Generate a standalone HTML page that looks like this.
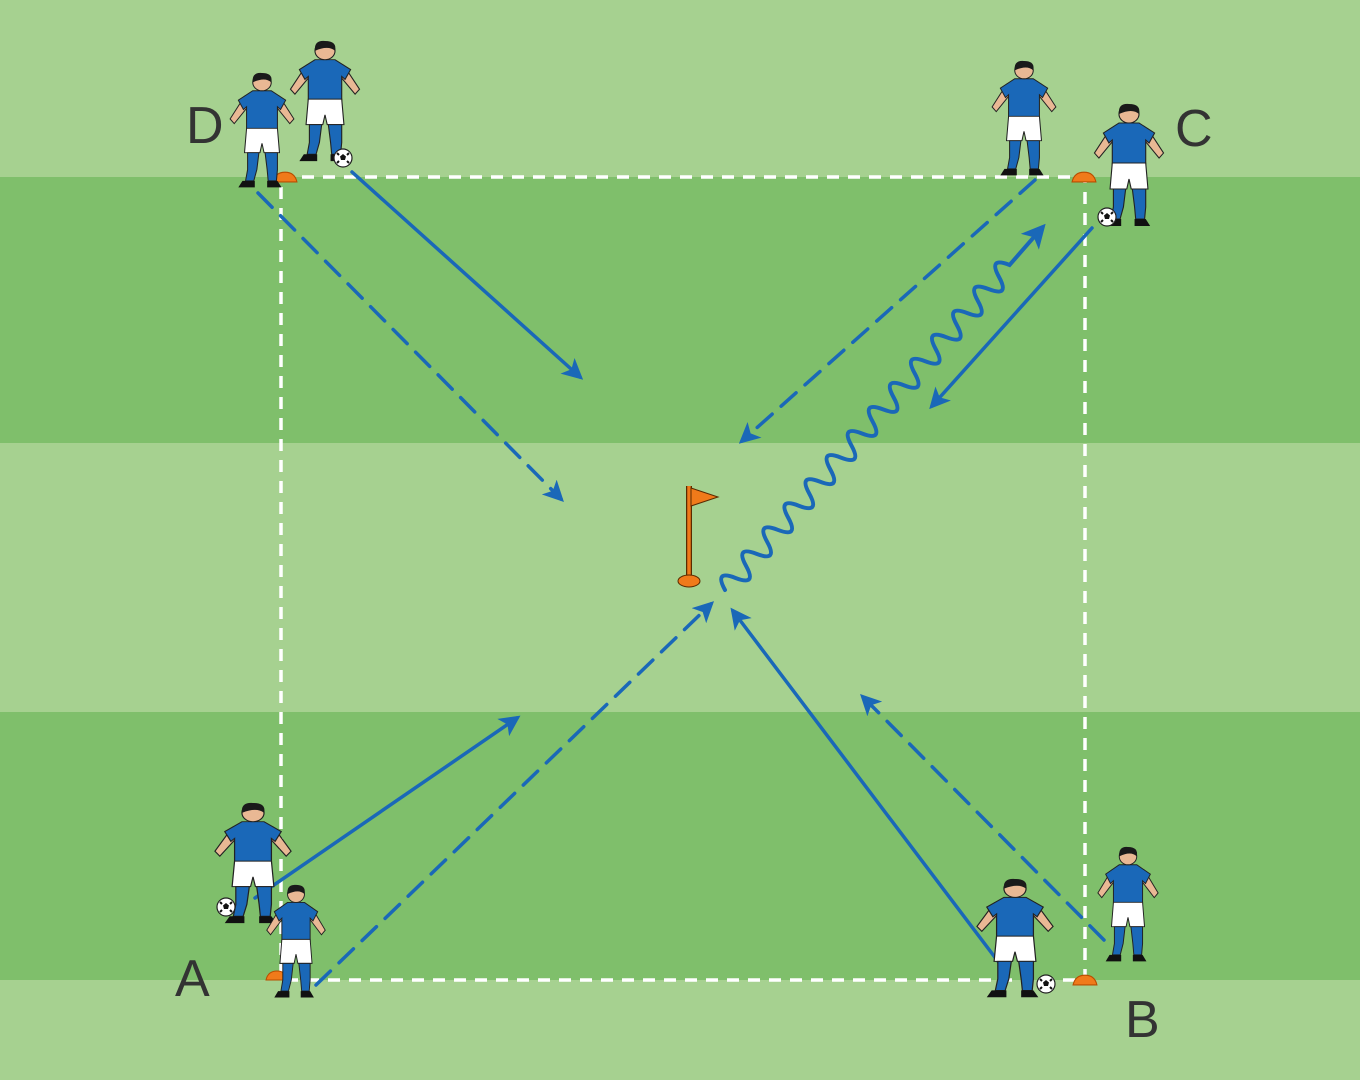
<!DOCTYPE html>
<html><head><meta charset="utf-8"><style>html,body{margin:0;padding:0;}svg{display:block}</style></head>
<body>
<svg width="1360" height="1080" viewBox="0 0 1360 1080" xmlns="http://www.w3.org/2000/svg">
<defs>
<marker id="ah" viewBox="0 0 10 10" refX="8" refY="5" markerWidth="6" markerHeight="6" orient="auto" markerUnits="strokeWidth">
<path d="M0 0 L10 5 L0 10 L2.5 5 Z" fill="#1a68b8"/></marker>
<symbol id="pl" viewBox="0 0 70 130" preserveAspectRatio="none">
<path d="M18 26 L4 50 L8 55 L22 36 Z" fill="#e9b894" stroke="#222" stroke-width="1"/>
<path d="M52 26 L66 50 L62 55 L48 36 Z" fill="#e9b894" stroke="#222" stroke-width="1"/>
<path d="M26 20 L44 20 L58 30 L53 40 L50 37 L50 62 L20 62 L20 37 L17 40 L12 30 Z" fill="#1a68b8" stroke="#222" stroke-width="1"/>
<path d="M20 60 L50 60 L52 86 L37 86 L35 76 L33 86 L18 86 Z" fill="#fff" stroke="#222" stroke-width="1"/>
<path d="M21 86 L32 86 L30 104 L27 116 L19 116 L21 104 Z" fill="#1a68b8" stroke="#222" stroke-width="1"/>
<path d="M38 86 L50 86 L50 104 L49 116 L41 116 L40 104 Z" fill="#1a68b8" stroke="#222" stroke-width="1"/>
<path d="M16 116 L28 116 L28 123 L12 123 Z" fill="#111"/>
<path d="M40 116 L50 116 L54 123 L40 123 Z" fill="#111"/>
<circle cx="35" cy="11" r="9" fill="#e9b894" stroke="#222" stroke-width="1"/>
<path d="M26 11 Q25 0 35 1 Q46 1 44 11 Q38 5 26 11 Z" fill="#1a1a1a"/>
</symbol>
<symbol id="ball" viewBox="0 0 20 20"><circle cx="10" cy="10" r="9" fill="#fff" stroke="#222" stroke-width="1.2"/><path d="M10 6 L13 8.5 L12 12 L8 12 L7 8.5 Z" fill="#111"/><path d="M4 5 L6 7 M16 5 L14 7 M4 15 L6 13 M16 15 L14 13" stroke="#111" stroke-width="2"/></symbol>
<symbol id="cone" viewBox="0 0 24 12" preserveAspectRatio="none"><path d="M1 11 Q3 2 12 2 Q21 2 23 11 Z" fill="#f07a1a" stroke="#b84d00" stroke-width="1"/></symbol>
</defs>
<rect width="1360" height="1080" fill="#a6d190"/>
<rect y="177" width="1360" height="266" fill="#7fbf6b"/>
<rect y="712" width="1360" height="268" fill="#7fbf6b"/>
<rect x="281" y="177" width="804" height="803" fill="none" stroke="#fff" stroke-width="3.5" stroke-dasharray="12 9"/>
<g stroke="#1a68b8" stroke-width="3.5" fill="none" stroke-linecap="round">
<line x1="352" y1="172" x2="580" y2="377" marker-end="url(#ah)"/>
<line x1="258" y1="193" x2="561" y2="499" stroke-dasharray="20 12" marker-end="url(#ah)"/>
<line x1="1035" y1="180" x2="742" y2="441" stroke-dasharray="20 12" marker-end="url(#ah)"/>
<line x1="1092" y1="228" x2="932" y2="406" marker-end="url(#ah)"/>
<line x1="255" y1="898" x2="517" y2="718" marker-end="url(#ah)"/>
<line x1="316" y1="985" x2="711" y2="604" stroke-dasharray="20 12" marker-end="url(#ah)"/>
<line x1="1003" y1="968" x2="733" y2="611" marker-end="url(#ah)"/>
<line x1="1104" y1="940" x2="863" y2="697" stroke-dasharray="20 12" marker-end="url(#ah)"/>
<g transform="translate(725,590) rotate(-48.8)">
<path stroke-width="4" d="M0 0 q8 -22 16 0 t16 0 t16 0 t16 0 t16 0 t16 0 t16 0 t16 0 t16 0 t16 0 t16 0 t16 0 t16 0 t16 0 t16 0 t16 0 t16 0 t16 0 t16 0 t16 0 t16 0 t16 0 t16 0 t16 0 t16 0 t16 0 t16 0 l50 0" marker-end="url(#ah)"/>
</g>
</g>
<line x1="689" y1="486" x2="689" y2="578" stroke="#5a2a00" stroke-width="6"/>
<line x1="689" y1="486" x2="689" y2="578" stroke="#f07a1a" stroke-width="3.5"/>
<path d="M691 488 L718 497 L691 506 Z" fill="#f07a1a" stroke="#5a2a00" stroke-width="1"/>
<ellipse cx="689" cy="581" rx="11" ry="6" fill="#f07a1a" stroke="#5a2a00" stroke-width="1"/>
<use href="#cone" x="272" y="170" width="26" height="13"/>
<use href="#cone" x="1071" y="170" width="26" height="13"/>
<use href="#cone" x="1072" y="973" width="26" height="13"/>
<use href="#cone" x="265" y="969" width="24" height="12"/>
<use href="#pl" x="226" y="72" width="72" height="122"/>
<use href="#pl" x="286" y="40" width="78" height="128"/>
<use href="#pl" x="988" y="60" width="72" height="122"/>
<use href="#pl" x="1090" y="103" width="78" height="130"/>
<use href="#pl" x="210" y="802" width="86" height="128"/>
<use href="#pl" x="263" y="884" width="66" height="120"/>
<use href="#pl" x="972" y="878" width="86" height="126"/>
<use href="#pl" x="1094" y="846" width="68" height="122"/>
<use href="#ball" x="333" y="148" width="20" height="20"/>
<use href="#ball" x="1097" y="207" width="20" height="20"/>
<use href="#ball" x="216" y="897" width="20" height="20"/>
<use href="#ball" x="1036" y="974" width="20" height="20"/>
<g font-family="Liberation Sans, sans-serif" font-size="52" fill="#333">
<text x="186" y="143">D</text>
<text x="1175" y="146">C</text>
<text x="175" y="996">A</text>
<text x="1125" y="1037">B</text>
</g>
</svg>
</body></html>
